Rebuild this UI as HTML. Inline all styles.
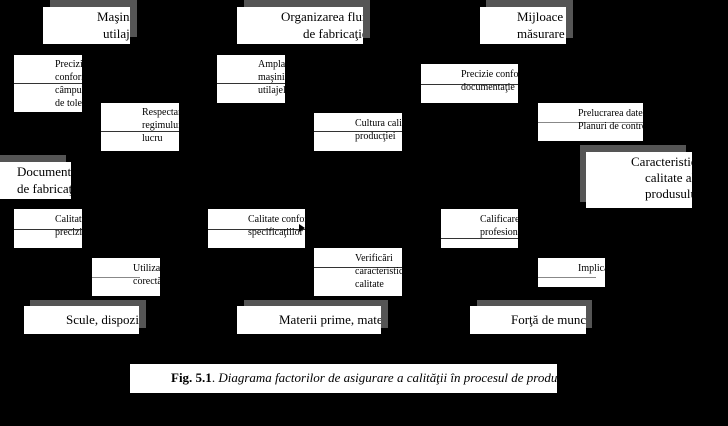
<!DOCTYPE html>
<html><head><meta charset="utf-8"><style>
body{margin:0;background:#000;width:728px;height:426px;overflow:hidden;position:relative;font-family:"Liberation Serif",serif}
.b{position:absolute;background:#fff;overflow:hidden;color:#000}
.s{position:absolute;background:#555}
.t{position:absolute;white-space:nowrap;line-height:13px;font-size:10px}
.T{position:absolute;white-space:nowrap;line-height:20px;font-size:13px}
.l{position:absolute;left:0;right:0;height:1px;background:#333}
</style></head><body>
<div class="s" style="left:50px;top:0;width:87px;height:37px"></div>
<div class="s" style="left:244px;top:0;width:126px;height:38px"></div>
<div class="s" style="left:486px;top:0;width:87px;height:38px"></div>
<div class="s" style="left:0;top:155px;width:66px;height:37px"></div>
<div class="s" style="left:580px;top:145px;width:106px;height:57px"></div>
<div class="s" style="left:30px;top:300px;width:116px;height:28px"></div>
<div class="s" style="left:244px;top:300px;width:144px;height:28px"></div>
<div class="s" style="left:477px;top:300px;width:115px;height:28px"></div>

<div class="b" style="left:43px;top:7px;width:87px;height:37px"><div class="T" style="left:54px;top:0">Maşini şi</div><div class="T" style="left:60px;top:17px">utilaje</div></div>
<div class="b" style="left:237px;top:7px;width:126px;height:37px"><div class="T" style="left:44px;top:0">Organizarea fluxului</div><div class="T" style="left:66px;top:17px">de fabricaţie</div></div>
<div class="b" style="left:480px;top:7px;width:86px;height:37px"><div class="T" style="left:37px;top:0">Mijloace de</div><div class="T" style="left:37px;top:17px">măsurare</div></div>
<div class="b" style="left:0;top:162px;width:71px;height:37px"><div class="T" style="left:17px;top:0">Documentaţia</div><div class="T" style="left:17px;top:17px">de fabricaţie</div></div>
<div class="b" style="left:586px;top:152px;width:106px;height:56px"><div class="T" style="left:45px;top:0">Caracteristici de</div><div class="T" style="left:59px;top:16px">calitate ale</div><div class="T" style="left:59px;top:32px">produsului</div></div>
<div class="b" style="left:24px;top:306px;width:115px;height:28px"><div class="T" style="left:42px;top:4px">Scule, dispozitive</div></div>
<div class="b" style="left:237px;top:306px;width:144px;height:28px"><div class="T" style="left:42px;top:4px">Materii prime, materiale</div></div>
<div class="b" style="left:470px;top:306px;width:116px;height:28px"><div class="T" style="left:41px;top:4px">Forţă de muncă</div></div>
<div class="b" style="left:130px;top:364px;width:427px;height:29px"><div class="T" style="left:41px;top:4px;font-size:13px"><b>Fig. 5.1</b>. <i>Diagrama factorilor de asigurare a calităţii în procesul de producţie</i></div></div>

<div class="b" style="left:14px;top:55px;width:68px;height:57px"><div class="l" style="top:28px"></div><div class="t" style="left:41px;top:3px">Precizie şi<br>conformitate<br>câmpului<br>de toleranţă</div></div>
<div class="b" style="left:101px;top:103px;width:78px;height:48px"><div class="l" style="top:28px"></div><div class="t" style="left:41px;top:3px">Respectarea<br>regimului de<br>lucru</div></div>
<div class="b" style="left:217px;top:55px;width:68px;height:48px"><div class="l" style="top:28px"></div><div class="t" style="left:41px;top:3px">Amplasarea<br>maşinilor şi<br>utilajelor</div></div>
<div class="b" style="left:314px;top:113px;width:88px;height:38px"><div class="l" style="top:18px"></div><div class="t" style="left:41px;top:4px">Cultura calităţii<br>producţiei</div></div>
<div class="b" style="left:421px;top:64px;width:97px;height:39px"><div class="l" style="top:20px"></div><div class="t" style="left:40px;top:4px">Precizie conformitate<br>documentaţie</div></div>
<div class="b" style="left:538px;top:103px;width:105px;height:38px"><div class="l" style="top:19px;background:#888"></div><div class="t" style="left:40px;top:4px">Prelucrarea datelor<br>Planuri de control</div></div>
<div class="b" style="left:14px;top:209px;width:68px;height:39px"><div class="l" style="top:20px"></div><div class="t" style="left:41px;top:4px">Calitatea<br>preciziei</div></div>
<div class="b" style="left:92px;top:258px;width:68px;height:38px"><div class="l" style="top:19px;right:20px;background:#888"></div><div class="t" style="left:41px;top:4px">Utilizare<br>corectă</div></div>
<div class="b" style="left:208px;top:209px;width:97px;height:39px"><div class="l" style="top:20px"></div><div class="t" style="left:40px;top:4px">Calitate conform<br>specificaţiilor</div><div style="position:absolute;left:91px;top:15px;border-left:6px solid #000;border-top:4px solid transparent;border-bottom:4px solid transparent"></div></div>
<div class="b" style="left:314px;top:248px;width:88px;height:48px"><div class="l" style="top:19px"></div><div class="t" style="left:41px;top:4px">Verificări<br>caracteristici de<br>calitate</div></div>
<div class="b" style="left:441px;top:209px;width:77px;height:39px"><div class="l" style="top:29px"></div><div class="t" style="left:39px;top:4px">Calificare<br>profesională</div></div>
<div class="b" style="left:538px;top:258px;width:67px;height:29px"><div class="l" style="top:19px;right:9px;background:#888"></div><div class="t" style="left:40px;top:4px">Implicare</div></div>
</body></html>
